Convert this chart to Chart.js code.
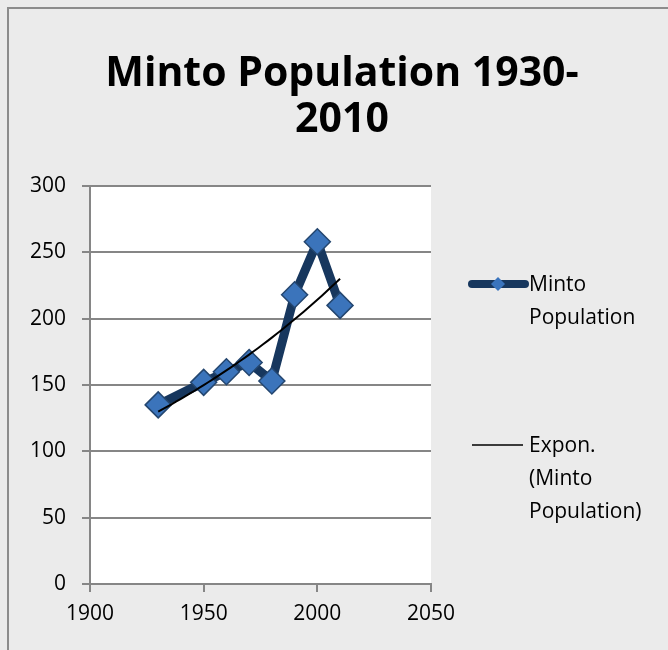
<!DOCTYPE html>
<html>
<head>
<meta charset="utf-8">
<script src="https://cdn.jsdelivr.net/npm/chart.js@4/dist/chart.umd.min.js"></script>
<style>
  html, body { margin: 0; padding: 0; background: #ebebeb; }
  #wrap { width: 668px; height: 650px; position: relative; }
</style>
</head>
<body>
<div id="wrap"><canvas id="lineChart" width="668" height="650"></canvas></div>
<script>
// dados
const years = [1930, 1950, 1960, 1970, 1980, 1990, 2000, 2010];
const population = [135, 152, 160, 167, 153, 218, 258, 210];
const xTicks = [1900, 1950, 2000, 2050];
const yTicks = [0, 50, 100, 150, 200, 250, 300];
const titleLines = ['Minto Population 1930-', '2010'];
const seriesName = ['Minto', 'Population'];
const trendName = ['Expon.', '(Minto', 'Population)'];

// linha de tendência exponencial (mínimos quadrados em ln y), como o Excel
function expTrend(xs, ys) {
  const n = xs.length;
  let sx = 0, sy = 0, sxx = 0, sxy = 0;
  xs.forEach((x, i) => {
    const ly = Math.log(ys[i]);
    sx += x; sy += ly; sxx += x * x; sxy += x * ly;
  });
  const b = (n * sxy - sx * sy) / (n * sxx - sx * sx);
  const a = (sy - b * sx) / n;
  const pts = [];
  for (let x = xs[0]; x <= xs[n - 1]; x += 2) pts.push({ x: x, y: Math.exp(a + b * x) });
  return pts;
}

const font = "'Open Sans', 'Liberation Sans', sans-serif";

const bgPlugin = {
  id: 'bg',
  beforeDraw(chart) {
    const { ctx, chartArea: a } = chart;
    ctx.save();
    ctx.fillStyle = '#ebebeb';
    ctx.fillRect(0, 0, chart.width, chart.height);
    ctx.strokeStyle = '#8c8c8c';
    ctx.lineWidth = 2;
    ctx.beginPath();
    ctx.moveTo(8, chart.height);
    ctx.lineTo(8, 8);
    ctx.lineTo(chart.width, 8);
    ctx.stroke();
    ctx.fillStyle = '#ffffff';
    ctx.fillRect(a.left, a.top, a.right - a.left, a.bottom - a.top);
    // título
    ctx.fillStyle = '#000';
    ctx.font = "bold 41px " + font;
    ctx.textAlign = 'center';
    ctx.textBaseline = 'middle';
    ctx.fillText(titleLines[0], 342, 74);
    ctx.fillText(titleLines[1], 342, 120);
    ctx.restore();
  }
};

const legendPlugin = {
  id: 'sideLegend',
  afterDraw(chart) {
    const ctx = chart.ctx;
    ctx.save();
    ctx.font = "21px " + font;
    ctx.fillStyle = '#000';
    ctx.textAlign = 'left';
    ctx.textBaseline = 'middle';
    // série
    ctx.strokeStyle = '#17375e';
    ctx.lineWidth = 8;
    ctx.lineCap = 'round';
    ctx.beginPath(); ctx.moveTo(472, 284); ctx.lineTo(525, 284); ctx.stroke();
    ctx.fillStyle = '#3a74bd';
    ctx.beginPath();
    ctx.moveTo(498, 277); ctx.lineTo(505, 284); ctx.lineTo(498, 291); ctx.lineTo(491, 284);
    ctx.closePath(); ctx.fill();
    ctx.fillStyle = '#000';
    seriesName.forEach((t, i) => ctx.fillText(t, 529, 285 + i * 33));
    // tendência
    ctx.strokeStyle = '#000';
    ctx.lineWidth = 1.5;
    ctx.lineCap = 'butt';
    ctx.beginPath(); ctx.moveTo(472, 445); ctx.lineTo(523, 445); ctx.stroke();
    trendName.forEach((t, i) => ctx.fillText(t, 529, 446 + i * 33));
    ctx.restore();
  }
};

new Chart(document.getElementById('lineChart').getContext('2d'), {
  type: 'scatter',
  data: {
    datasets: [
      {
        label: seriesName.join(' '),
        data: years.map((y, i) => ({ x: y, y: population[i] })),
        showLine: true,
        borderColor: '#17375e',
        borderWidth: 9,
        borderJoinStyle: 'round',
        pointStyle: 'rectRot',
        pointRadius: 13,
        pointHoverRadius: 13,
        pointBackgroundColor: '#3b74bb',
        pointBorderColor: '#24466f',
        pointBorderWidth: 1.5,
        order: 2
      },
      {
        label: trendName.join(' '),
        data: expTrend(years, population),
        showLine: true,
        borderColor: '#000',
        borderWidth: 2,
        pointRadius: 0,
        tension: 0,
        order: 1
      }
    ]
  },
  plugins: [bgPlugin, legendPlugin],
  options: {
    responsive: false,
    animation: false,
    layout: { padding: { top: 186, right: 237, bottom: 0, left: 0 } },
    plugins: {
      legend: { display: false },
      tooltip: { enabled: false }
    },
    scales: {
      x: {
        type: 'linear',
        min: xTicks[0],
        max: xTicks[xTicks.length - 1],
        afterBuildTicks: s => { s.ticks = xTicks.map(v => ({ value: v })); },
        afterFit: s => { s.height = 66; },
        grid: { display: true, drawOnChartArea: false, drawTicks: true, tickLength: 8, color: '#868686', lineWidth: 2 },
        border: { color: '#868686', width: 2 },
        ticks: { color: '#000', font: { family: font, size: 21 }, padding: 9, maxRotation: 0, callback: v => String(v) }
      },
      y: {
        min: yTicks[0],
        max: yTicks[yTicks.length - 1],
        afterBuildTicks: s => { s.ticks = yTicks.map(v => ({ value: v })); },
        afterFit: s => { s.width = 90; },
        grid: { color: '#868686', lineWidth: 2, tickLength: 8, drawTicks: true },
        border: { color: '#868686', width: 2 },
        ticks: { color: '#000', font: { family: font, size: 21 }, padding: 16 }
      }
    }
  }
});
</script>
</body>
</html>
